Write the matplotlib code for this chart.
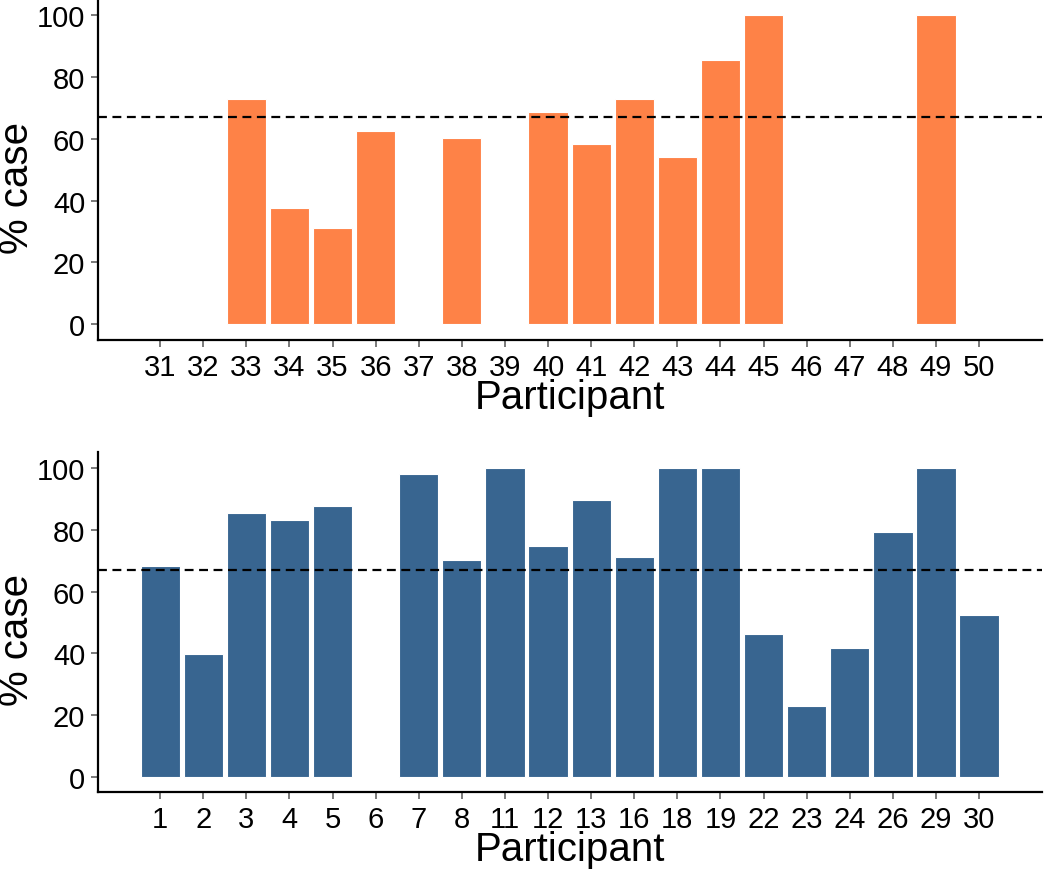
""" Percent case per participant, two groups """

import matplotlib
matplotlib.use("Agg")
import matplotlib.pyplot as plt

top_participants = ["31", "32", "33", "34", "35", "36", "37", "38", "39", "40",
                    "41", "42", "43", "44", "45", "46", "47", "48", "49", "50"]
top_values = [0, 0, 72.8, 37.5, 31.2, 62.5, 0, 60.3, 0, 68.5,
              58.3, 72.8, 54.1, 85.4, 100, 0, 0, 0, 100, 0]

bottom_participants = ["1", "2", "3", "4", "5", "6", "7", "8", "11", "12",
                       "13", "16", "18", "19", "22", "23", "24", "26", "29", "30"]
bottom_values = [68.4, 39.7, 85.6, 83.1, 87.8, 0, 98.2, 70.3, 100, 74.7,
                 89.7, 71.1, 100, 100, 46.4, 23.0, 41.7, 79.5, 100, 52.4]

threshold = 67
y_ticks = [0, 20, 40, 60, 80, 100]

plt.rcParams["font.family"] = ["Liberation Sans", "DejaVu Sans"]


def draw_panel(ax, labels, values, color):
    """ one bar panel in the ggplot classic look """
    ax.bar(labels, values, width=0.91, color=color, edgecolor="white", linewidth=0.8)
    ax.axhline(threshold, color="black", linestyle=(0, (4, 2.5)), linewidth=1.6)
    ax.set_xlim(-1.45, len(labels) - 1 + 1.45)
    ax.set_ylim(-5.1, 105.2)
    ax.set_yticks(y_ticks)
    ax.set_xlabel("Participant", fontsize=29, labelpad=-2)
    ax.set_ylabel("% case", fontsize=29, va="center")
    ax.yaxis.set_label_coords(-0.085, 0.45)
    for side in ["top", "right"]:
        ax.spines[side].set_visible(False)
    for side in ["left", "bottom"]:
        ax.spines[side].set_linewidth(1.6)
    ax.tick_params(axis="both", labelsize=21, length=5, width=1.1,
                   color="#555555", labelcolor="black", pad=4)


def main():
    fig = plt.figure(figsize=(10.5, 8.7), dpi=100)
    ax_top = fig.add_axes([0.093, 0.608, 0.899, 0.392])
    ax_bottom = fig.add_axes([0.093, 0.088, 0.899, 0.391])
    draw_panel(ax_top, top_participants, top_values, "#FE8247")
    draw_panel(ax_bottom, bottom_participants, bottom_values, "#386590")
    fig.savefig("out.png", dpi=100)


if __name__ == "__main__":
    main()
